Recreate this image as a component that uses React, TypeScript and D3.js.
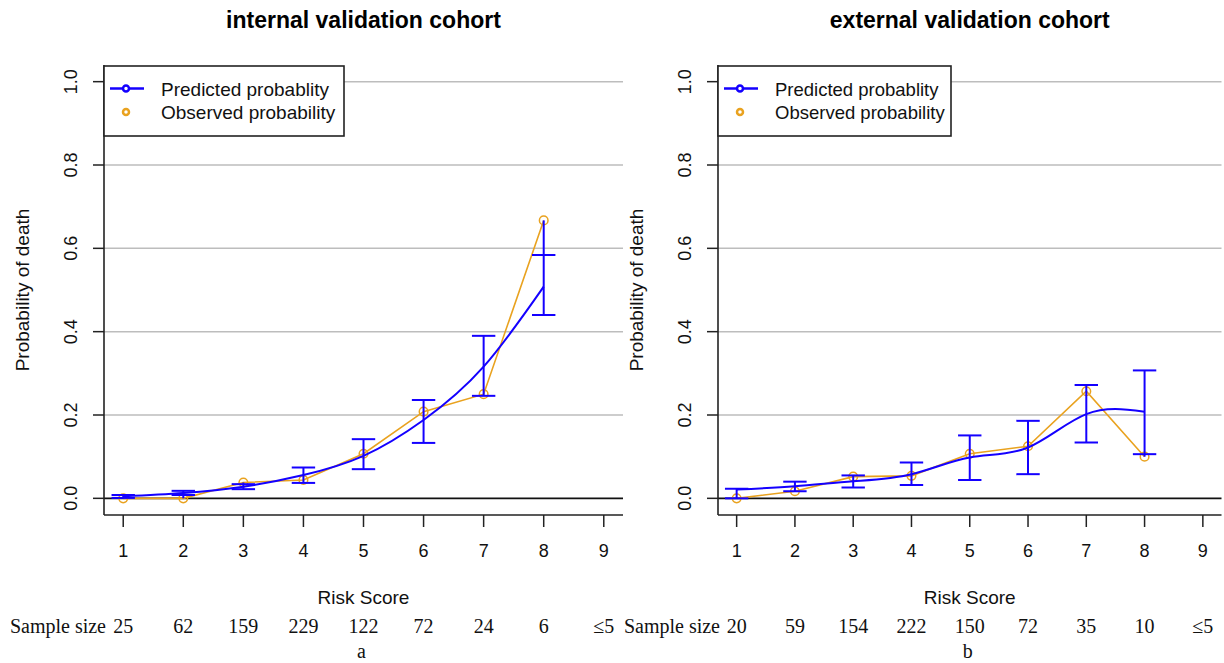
import React from "react";
import * as d3 from "d3";

// ---- data ----
const riskScores = [1, 2, 3, 4, 5, 6, 7, 8];
const xTicks = [1, 2, 3, 4, 5, 6, 7, 8, 9];
const yTicks = [0, 0.2, 0.4, 0.6, 0.8, 1.0];
const yTickLabels = ["0.0", "0.2", "0.4", "0.6", "0.8", "1.0"];

const internalPredicted = [0.005, 0.013, 0.028, 0.056, 0.102, 0.188, 0.316, 0.508];
const internalLower = [0.001, 0.008, 0.022, 0.037, 0.07, 0.133, 0.246, 0.44];
const internalUpper = [0.008, 0.018, 0.034, 0.074, 0.142, 0.236, 0.39, 0.584];
const internalObserved = [0, 0, 0.038, 0.044, 0.107, 0.208, 0.25, 0.667];
const internalSizes = ["25", "62", "159", "229", "122", "72", "24", "6", "≤5"];

const externalPredicted = [0.021, 0.029, 0.041, 0.058, 0.098, 0.122, 0.202, 0.208];
const externalLower = [0.0, 0.017, 0.026, 0.032, 0.044, 0.058, 0.134, 0.106];
const externalUpper = [0.023, 0.04, 0.055, 0.086, 0.151, 0.186, 0.272, 0.307];
const externalObserved = [0, 0.017, 0.052, 0.054, 0.107, 0.125, 0.257, 0.1];
const externalSizes = ["20", "59", "154", "222", "150", "72", "35", "10", "≤5"];

const SANS = "'Liberation Sans', Arial, sans-serif";
const SERIF = "'Liberation Serif', 'Times New Roman', serif";
const BLUE = "#1400ff";
const ORANGE = "#E9A21F";

type PanelProps = {
  left: number;
  right: number;
  title: string;
  pred: number[];
  lo: number[];
  hi: number[];
  obs: number[];
  sizes: string[];
  letter: string;
  legendW: number;
  legendFont: number;
};

function Panel({ left, right, title, pred, lo, hi, obs, sizes, letter, legendW, legendFont }: PanelProps) {
  const top = 65;
  const bottom = 515;
  const x = d3.scaleLinear().domain([0.68, 9.32]).range([left, right]);
  const y = d3.scaleLinear().domain([-0.04, 1.04]).range([bottom, top]);
  const cx = (left + right) / 2;

  const predLine = d3
    .line<number>()
    .x((_, i) => x(riskScores[i]))
    .y((d) => y(d))
    .curve(d3.curveNatural);
  const obsLine = d3
    .line<number>()
    .x((_, i) => x(riskScores[i]))
    .y((d) => y(d));

  const capHalf = 11.7;

  return (
    <g>
      <text x={cx} y={28} textAnchor="middle" fontFamily={SANS} fontWeight="bold" fontSize={23}>
        {title}
      </text>

      {/* grid */}
      {yTicks.slice(1).map((v) => (
        <line key={"g" + v} x1={left} x2={right} y1={y(v)} y2={y(v)} stroke="#bdbdbd" strokeWidth={1.5} />
      ))}
      <line x1={left} x2={right} y1={y(0)} y2={y(0)} stroke="#111" strokeWidth={1.6} />

      {/* axes */}
      <line x1={left} x2={left} y1={top} y2={bottom} stroke="#222" strokeWidth={1.6} />
      <line x1={left} x2={right} y1={bottom} y2={bottom} stroke="#222" strokeWidth={1.6} />

      {yTicks.map((v, i) => (
        <g key={"yt" + v}>
          <line x1={left - 11} x2={left} y1={y(v)} y2={y(v)} stroke="#222" strokeWidth={1.5} />
          <text
            transform={`translate(${left - 27},${y(v)}) rotate(-90)`}
            textAnchor="middle"
            fontFamily={SANS}
            fontSize={18}
            fill="#111"
          >
            {yTickLabels[i]}
          </text>
        </g>
      ))}
      <text
        transform={`translate(${left - 75},${(top + bottom) / 2}) rotate(-90)`}
        textAnchor="middle"
        fontFamily={SANS}
        fontSize={19}
        fill="#111"
      >
        Probability of death
      </text>

      {xTicks.map((v) => (
        <g key={"xt" + v}>
          <line x1={x(v)} x2={x(v)} y1={bottom} y2={bottom + 12} stroke="#222" strokeWidth={1.5} />
          <text x={x(v)} y={557} textAnchor="middle" fontFamily={SANS} fontSize={18} fill="#111">
            {v}
          </text>
        </g>
      ))}
      <text x={cx} y={604} textAnchor="middle" fontFamily={SANS} fontSize={19} fill="#111">
        Risk Score
      </text>

      <text x={left + 2} y={633} textAnchor="end" fontFamily={SERIF} fontSize={20} fill="#111">
        Sample size
      </text>
      {sizes.map((s, i) => (
        <text key={"n" + i} x={x(xTicks[i])} y={633} textAnchor="middle" fontFamily={SERIF} fontSize={20} fill="#111">
          {s}
        </text>
      ))}
      <text x={cx - 2} y={658} textAnchor="middle" fontFamily={SERIF} fontSize={20} fill="#111">
        {letter}
      </text>

      {/* observed */}
      <path d={obsLine(obs) || ""} fill="none" stroke={ORANGE} strokeWidth={1.6} />
      {obs.map((v, i) => (
        <circle key={"o" + i} cx={x(riskScores[i])} cy={y(v)} r={4.3} fill="none" stroke={ORANGE} strokeWidth={1.5} />
      ))}

      {/* predicted */}
      <path d={predLine(pred) || ""} fill="none" stroke={BLUE} strokeWidth={2} />
      {riskScores.map((s, i) => {
        const px = x(s);
        const a = Math.min(lo[i], obs[i]);
        const b = Math.max(hi[i], obs[i]);
        return (
          <g key={"e" + i} stroke={BLUE} strokeWidth={2}>
            <line x1={px} x2={px} y1={y(a)} y2={y(b)} />
            <line x1={px - capHalf} x2={px + capHalf} y1={y(lo[i])} y2={y(lo[i])} />
            <line x1={px - capHalf} x2={px + capHalf} y1={y(hi[i])} y2={y(hi[i])} />
          </g>
        );
      })}

      {/* legend */}
      <rect x={left} y={66} width={legendW} height={70} fill="white" stroke="#222" strokeWidth={1.6} />
      <line x1={left + 6} x2={left + 40} y1={88.5} y2={88.5} stroke={BLUE} strokeWidth={2.5} />
      <circle cx={left + 22} cy={88.5} r={3} fill="white" stroke={BLUE} strokeWidth={2.5} />
      <text x={left + 57} y={95.5} fontFamily={SANS} fontSize={legendFont} fill="#111">
        Predicted probablity
      </text>
      <circle cx={left + 22} cy={112} r={3} fill="none" stroke={ORANGE} strokeWidth={2.5} />
      <text x={left + 57} y={118.5} fontFamily={SANS} fontSize={legendFont} fill="#111">
        Observed probability
      </text>
    </g>
  );
}

export default function App() {
  return (
    <svg
      width={1224}
      height={663}
      viewBox="0 0 1224 663"
      style={{ position: "absolute", left: 0, top: 0, background: "white" }}
    >
      <rect x={0} y={0} width={1224} height={663} fill="white" />
      <Panel
        left={104}
        right={623}
        title="internal validation cohort"
        pred={internalPredicted}
        lo={internalLower}
        hi={internalUpper}
        obs={internalObserved}
        sizes={internalSizes}
        letter="a"
        legendW={240}
        legendFont={19}
      />
      <Panel
        left={718}
        right={1221.5}
        title="external validation cohort"
        pred={externalPredicted}
        lo={externalLower}
        hi={externalUpper}
        obs={externalObserved}
        sizes={externalSizes}
        letter="b"
        legendW={233}
        legendFont={18.5}
      />
    </svg>
  );
}
